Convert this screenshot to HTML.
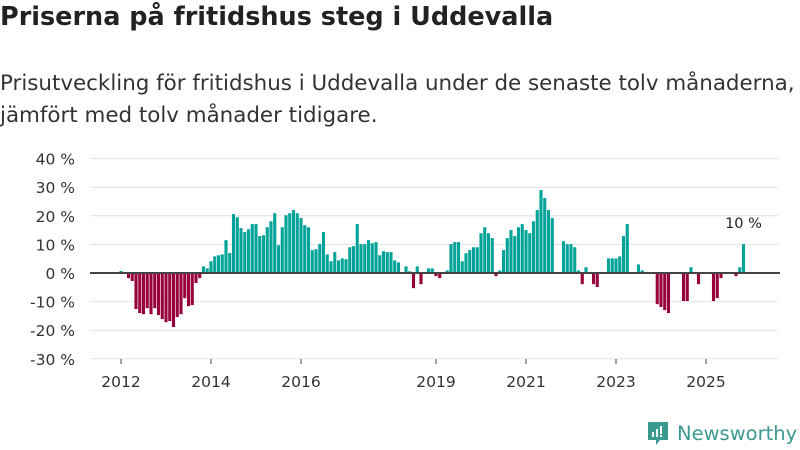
<!DOCTYPE html>
<html><head><meta charset="utf-8">
<style>
body{margin:0;background:#fff;font-family:"DejaVu Sans","Liberation Sans",sans-serif;}
#wrap{position:relative;width:800px;height:450px;overflow:hidden;}
.t{position:absolute;left:0;margin:0;color:#222;white-space:nowrap;}
</style></head><body>
<div id="wrap">
<h1 class="t" style="top:2px;font-size:25.5px;font-weight:bold;">Priserna på fritidshus steg i Uddevalla</h1>
<div class="t" style="top:68px;font-size:21.4px;line-height:32px;color:#333;">Prisutveckling för fritidshus i Uddevalla under de senaste tolv månaderna,<br>jämfört med tolv månader tidigare.</div>
<svg id="chart" width="800" height="450" style="position:absolute;left:0;top:0"></svg>
<div style="position:absolute;left:646px;top:420px;display:flex;align-items:center;">
<svg width="24" height="26"><path d="M2 2h20v18h-8l-4 5v-5H2z" fill="#3a9a8f"/><rect x="6" y="12" width="2" height="5" fill="#fff"/><rect x="10" y="9" width="2" height="8" fill="#fff"/><rect x="14" y="6" width="2" height="8" fill="#fff"/><rect x="14" y="15" width="2" height="2" fill="#fff"/></svg>
<span style="font-size:19.5px;color:#3a9a8f;margin-left:7px;font-family:'DejaVu Sans',sans-serif;">Newsworthy</span>
</div>
</div>
<script>
const yTicks=[40,30,20,10,0,-10,-20,-30];
const yearLabels=[2012,2014,2016,2019,2021,2023,2025];
const startYear=2012;
const values=[0.7,null,-1.8,-2.8,-12.6,-14,-14.4,-12.3,-14.4,-12.3,-14.7,-16.1,
-17.2,-16.8,-18.9,-15.4,-14.4,-8.8,-11.6,-11.2,-3.5,-1.8,2.3,1.6,
4.1,5.8,6.2,6.5,11.5,7.0,20.6,19.5,15.7,14.3,15.3,17.1,
17.1,12.9,13.2,16.0,18.1,20.9,9.7,16.0,20.2,20.9,22.0,20.9,
19.2,16.7,16.0,8.0,8.3,10.1,14.3,6.5,4.1,7.3,4.4,5.1,
4.8,9.0,9.4,17.1,10.1,10.1,11.5,10.4,10.8,6.2,7.6,7.3,
7.3,4.4,3.7,null,2.3,0.6,-5.3,2.3,-3.9,null,1.6,1.6,
-1.1,-1.8,null,0.9,10.1,10.8,10.8,4.1,6.9,8.0,9.0,9.0,
13.9,16.0,13.9,12.2,-1.1,0.9,8.0,12.2,15.0,12.9,16.0,17.1,
15.0,13.9,18.1,22.0,29.0,26.2,22.0,19.2,null,null,11.1,10.1,
10.1,9.0,0.9,-3.9,2.0,null,-3.9,-4.9,null,null,5.1,5.1,
5.1,5.8,12.9,17.1,null,null,3.0,0.9,null,null,null,-10.9,
-11.9,-13.0,-14.0,null,null,null,-9.8,-9.8,2.0,null,-3.9,null,
null,null,-9.8,-8.8,-1.8,null,null,null,-1.1,2.0,10.1];
const lastLabel="10 %";

const svg=document.getElementById('chart');
const NS='http://www.w3.org/2000/svg';
const FONT='DejaVu Sans, Liberation Sans, sans-serif';
const x0=90,x1=780,mx0=121,pxPerMonth=3.75;
const y=v=>273-v*2.86;
const xm=i=>mx0+i*pxPerMonth;
function mk(tag,attrs){const e=document.createElementNS(NS,tag);for(const k in attrs)e.setAttribute(k,attrs[k]);svg.appendChild(e);return e;}
yTicks.forEach(t=>{
 if(t!==0){const g=mk('line',{x1:x0,x2:x1-2,y1:y(t),y2:y(t),stroke:'#e2e2e2','stroke-width':1});
 
 }
 const l=mk('text',{x:75,y:y(t)+6,'text-anchor':'end','font-size':15.5,fill:'#333','font-family':FONT});
 l.textContent=t+' %';
 
 
});
values.forEach((v,i)=>{
 if(v===null)return;
 const top=Math.min(y(v),y(0)),h=Math.abs(y(v)-y(0));
 const r=mk('rect',{x:xm(i)-1.55,y:top,width:3.1,height:Math.max(h,0.5),fill:v>=0?'#00a398':'#98003a'});
 
 
});
const ax=mk('line',{x1:x0,x2:x1,y1:y(0),y2:y(0),stroke:'#444','stroke-width':2});


yearLabels.forEach(yr=>{
 const xx=xm((yr-startYear)*12);
 const tk=mk('line',{x1:xx,x2:xx,y1:359,y2:364,stroke:'#444','stroke-width':1});
 
 
 const l=mk('text',{x:xx,y:387,'text-anchor':'middle','font-size':15.5,fill:'#333','font-family':FONT});
 l.textContent=yr;
 
 
});
const li=values.length-1;
const lab=mk('text',{x:xm(li),y:y(values[li])-16,'text-anchor':'middle','font-size':14.5,fill:'#222','font-family':FONT});
lab.textContent=lastLabel;


</script>
</body></html>
